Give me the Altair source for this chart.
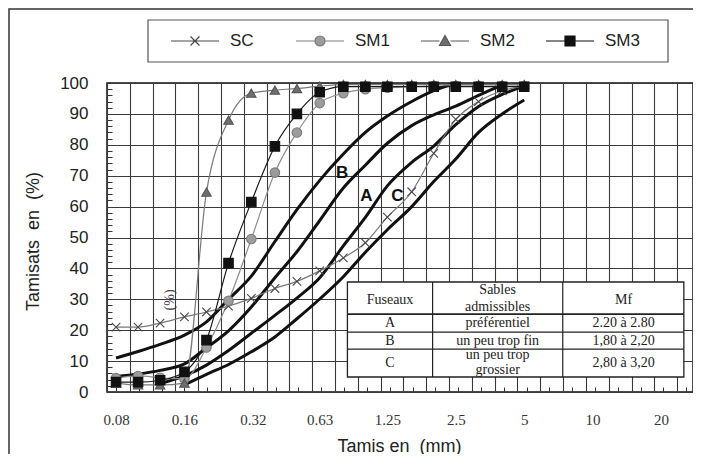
import altair as alt
import pandas as pd

# ---------------- data ----------------
sieves = [0.08, 0.1, 0.125, 0.16, 0.2, 0.25, 0.315, 0.4, 0.5, 0.63, 0.8, 1.0,
          1.25, 1.6, 2.0, 2.5, 3.15, 4.0, 5.0]
series_names = ["SC", "SM1", "SM2", "SM3"]
sc = [21.0, 21.0, 22.3, 24.3, 25.9, 27.8, 30.3, 33.5, 35.8, 39.2, 43.4, 48.3,
      56.6, 64.8, 77.2, 88.2, 94.0, 97.5, 99.0]
sm1 = [4.5, 5.2, 4.6, 4.3, 14.4, 29.5, 49.5, 71.0, 84.0, 93.5, 96.7, 98.0,
       98.5, 98.8, 99.0, 99.0, 99.0, 99.0, 99.0]
sm2 = [2.9, 2.3, 2.3, 2.9, 64.7, 88.0, 96.7, 97.7, 98.2, 99.0, 99.5, 99.5,
       99.5, 99.5, 99.5, 99.5, 99.5, 99.5, 99.5]
sm3 = [3.2, 3.2, 3.8, 6.5, 16.8, 41.7, 61.5, 79.5, 90.0, 97.0, 98.8, 98.8,
       98.8, 98.8, 98.8, 98.8, 98.8, 98.8, 98.8]

# zone boundary curves (fuseaux)
curve1_x = sieves[:16]
curve1 = [11.0, 13.1, 15.4, 18.4, 22.7, 30.0, 37.5, 48.7, 59.0, 68.5, 77.0,
          84.0, 89.3, 94.0, 97.5, 100.0]
curve2_x = sieves[:18]
curve2 = [5.0, 5.8, 7.0, 9.1, 14.3, 19.8, 27.5, 37.0, 45.4, 55.5, 66.0, 73.4,
          80.5, 86.2, 89.7, 92.5, 96.0, 99.4]
curve3_x = sieves[2:]
curve3 = [2.7, 5.2, 8.7, 13.4, 19.0, 24.8, 30.4, 37.0, 47.3, 56.5, 66.7, 74.3,
          79.6, 86.5, 92.4, 96.3, 99.0]
curve4_x = sieves[3:]
curve4 = [2.3, 5.7, 8.9, 13.0, 17.8, 23.7, 30.1, 37.3, 45.2, 52.5, 60.0, 68.1,
          75.4, 84.0, 90.0, 94.5]

x_tick_labels = [0.08, 0.16, 0.32, 0.63, 1.25, 2.5, 5, 10, 20]
y_ticks = list(range(0, 101, 10))

zone_labels = ["B", "A", "C"]
zone_label_x = [0.79, 1.01, 1.385]
zone_label_y = [70.9, 63.4, 63.4]

table_texts = ["Fuseaux", "Sables", "admissibles", "Mf",
               "A", "préférentiel", "2.20 à 2.80",
               "B", "un peu trop fin", "1,80 à 2,20",
               "C", "un peu trop", "grossier", "2,80 à 3,20"]

# ---------------- layout (annotation geometry, data space) ----------------
X_DOMAIN = [0.0730, 27.65]
grid_x = [X_DOMAIN[0] * 2 ** (k / 3) for k in range(0, 26)]
inner_x_ticks = [0.08 * 2 ** (k / 3) for k in range(0, 26)]
inner_y_ticks = [v for v in range(2, 100, 2) if v % 10]

tab_l, tab_c1, tab_c2, tab_r = 0.834, 1.977, 7.39, 25.2
tab_top, tab_h, tab_a, tab_b, tab_bot = 35.6, 25.2, 19.4, 13.9, 4.85
col1, col2, col3 = 1.284, 3.82, 13.7
table_text_x = [col1, col2, col2, col3,
                col1, col2, col3,
                col1, col2, col3,
                col1, col2, col2, col3]
table_text_y = [29.8, 33.0, 27.5, 29.8,
                22.3, 22.3, 22.3,
                16.6, 16.6, 16.6,
                9.4, 12.0, 7.1, 9.4]

# ---------------- frames ----------------
series_df = pd.DataFrame({
    "sieve": sieves * 4,
    "pct": sc + sm1 + sm2 + sm3,
    "series": sum([[n] * len(sieves) for n in series_names], []),
})
curves_df = pd.DataFrame({
    "sieve": curve1_x + curve2_x + curve3_x + curve4_x,
    "pct": curve1 + curve2 + curve3 + curve4,
    "curve": (["c1"] * len(curve1) + ["c2"] * len(curve2) +
              ["c3"] * len(curve3) + ["c4"] * len(curve4)),
})
one = pd.DataFrame({"a": [0]})

xs = alt.Scale(type="log", base=2, domain=X_DOMAIN, nice=False)
ys = alt.Scale(domain=[0, 100], nice=False, zero=False)

line_colors = ["#7a7a7a", "#8c8c8c", "#7a7a7a", "#1a1a1a"]
fill_colors = ["#555555", "#9c9c9c", "#6e6e6e", "#111111"]
stroke_colors = ["#4a4a4a", "#7c7c7c", "#555555", "#111111"]
pt_shapes = ["M-0.9,-0.9L0.9,0.9M-0.9,0.9L0.9,-0.9", "circle",
             "triangle-up", "square"]
leg_shapes = [
    "M-2.4,0H2.4M-0.45,-0.45L0.45,0.45M-0.45,0.45L0.45,-0.45",
    "M-2.4,0H-0.5M0.5,0H2.4M0.5,0A0.5,0.5,0,1,1,-0.5,0A0.5,0.5,0,1,1,0.5,0Z",
    "M-2.4,0H-0.55M0.55,0H2.4M0,-0.55L0.55,0.45H-0.55Z",
    "M-2.4,0H-0.5M0.5,0H2.4M-0.5,-0.5H0.5V0.5H-0.5Z",
]

SANS = "Liberation Sans"
SERIF = "Liberation Serif"

# outer frame (decoration)
frame = alt.Chart(one).mark_rect(fill="transparent", stroke="#333", strokeWidth=1.5).encode(
    x=alt.value(-98), x2=alt.value(640), y=alt.value(-74), y2=alt.value(420))

legend_box = alt.Chart(one).mark_rect(fill="transparent", stroke="#555", strokeWidth=1.2).encode(
    x=alt.value(41), x2=alt.value(561), y=alt.value(-63), y2=alt.value(-21))

# zone curves carry the grid axes
fuseaux = alt.Chart(curves_df).mark_line(
    color="#111", strokeWidth=3, interpolate="monotone").encode(
    x=alt.X("sieve:Q", scale=xs, axis=alt.Axis(
        orient="bottom", values=grid_x, grid=True, gridColor="#3a3a3a", gridWidth=1.1,
        labels=False, ticks=False, domain=False, title=None)),
    y=alt.Y("pct:Q", scale=ys, axis=alt.Axis(
        orient="left", values=y_ticks, grid=True, gridColor="#3a3a3a", gridWidth=1.1,
        ticks=False, domain=False, labelFont=SANS, labelFontSize=17,
        labelColor="#222", labelPadding=19,
        title="Tamisats\u00a0 en\u00a0 (%)", titleFont=SANS, titleFontSize=18,
        titleFontWeight="normal", titleColor="#222", titleAngle=270,
        titleX=-74, titleY=158, titleAlign="center", titleBaseline="middle")),
    detail="curve:N",
)

series_lines = alt.Chart(series_df).mark_line(
    strokeWidth=1.2, interpolate="monotone").encode(
    x=alt.X("sieve:Q", scale=xs, axis=alt.Axis(
        orient="bottom", values=x_tick_labels, format="~g", grid=False,
        ticks=False, domain=False, labelFont=SERIF, labelFontSize=15,
        labelColor="#333", labelPadding=20, labelFlush=False, labelOverlap=False,
        title="Tamis en\u00a0 (mm)", titleFont=SANS, titleFontSize=18,
        titleFontWeight="normal", titleColor="#222", titleX=292, titleY=54,
        titleAlign="center", titleBaseline="middle")),
    y=alt.Y("pct:Q", scale=ys, axis=alt.Axis(
        orient="right", offset=-586, values=inner_y_ticks, labels=False,
        ticks=True, tickSize=5, tickColor="#333", tickWidth=1, grid=False,
        domain=False, title=None)),
    stroke=alt.Stroke("series:N", scale=alt.Scale(domain=series_names,
                                                   range=line_colors), legend=None),
)

series_points = alt.Chart(series_df).mark_point(
    filled=True, size=90, strokeWidth=1.1, opacity=1).encode(
    x=alt.X("sieve:Q", scale=xs, axis=alt.Axis(
        orient="top", offset=-309, values=inner_x_ticks, labels=False,
        ticks=True, tickSize=5, tickColor="#333", tickWidth=1, grid=False,
        domain=False, title=None)),
    y=alt.Y("pct:Q", scale=ys, axis=None),
    shape=alt.Shape("series:N", scale=alt.Scale(domain=series_names,
                                                 range=pt_shapes), legend=None),
    fill=alt.Fill("series:N", scale=alt.Scale(domain=series_names,
                                               range=fill_colors), legend=None),
    stroke=alt.Stroke("series:N", scale=alt.Scale(domain=series_names,
                                                   range=stroke_colors), legend=None),
)

leg = alt.Legend(orient="none", legendX=77, legendY=-53, direction="horizontal",
                 columns=4, gridAlign="all", columnPadding=28, symbolSize=400,
                 symbolStrokeWidth=1.2, labelOffset=24, labelFont=SANS,
                 labelFontSize=17, labelColor="#222", title=None, padding=0)
legend_layer = alt.Chart(pd.DataFrame({"series": series_names})).mark_point(
    filled=True, size=400, strokeWidth=1.2, opacity=1).encode(
    x=alt.value(-500), y=alt.value(-500),
    shape=alt.Shape("series:N", scale=alt.Scale(domain=series_names,
                                                 range=leg_shapes), legend=leg),
    fill=alt.Fill("series:N", scale=alt.Scale(domain=series_names,
                                               range=fill_colors), legend=leg),
    stroke=alt.Stroke("series:N", scale=alt.Scale(domain=series_names,
                                                   range=stroke_colors), legend=leg),
)

zone_df = pd.DataFrame({"x": zone_label_x, "y": zone_label_y, "t": zone_labels})
zone_text = alt.Chart(zone_df).mark_text(
    font=SANS, fontSize=17, fontWeight="bold", color="#111").encode(
    x=alt.X("x:Q", scale=xs, axis=None), y=alt.Y("y:Q", scale=ys, axis=None),
    text="t:N")

pct_text = alt.Chart(pd.DataFrame({"x": [0.138], "y": [29.8], "t": ["(%)"]})).mark_text(
    font=SERIF, fontSize=14, color="#444", angle=270).encode(
    x=alt.X("x:Q", scale=xs, axis=None), y=alt.Y("y:Q", scale=ys, axis=None),
    text="t:N")

table_box = alt.Chart(pd.DataFrame({"x": [tab_l], "x2": [tab_r],
                                    "y": [tab_top], "y2": [tab_bot]})).mark_rect(
    fill="white", stroke="#222", strokeWidth=1.3).encode(
    x=alt.X("x:Q", scale=xs, axis=None), x2="x2:Q",
    y=alt.Y("y:Q", scale=ys, axis=None), y2="y2:Q")

rules_df = pd.DataFrame({
    "x": [tab_c1, tab_c2, tab_l, tab_l, tab_l],
    "x2": [tab_c1, tab_c2, tab_r, tab_r, tab_r],
    "y": [tab_top, tab_top, tab_h, tab_a, tab_b],
    "y2": [tab_bot, tab_bot, tab_h, tab_a, tab_b],
    "w": [1.2, 1.2, 1.8, 1.2, 1.2],
})
table_rules = alt.Chart(rules_df).mark_rule(color="#222").encode(
    x=alt.X("x:Q", scale=xs, axis=None), x2="x2:Q",
    y=alt.Y("y:Q", scale=ys, axis=None), y2="y2:Q",
    strokeWidth=alt.StrokeWidth("w:Q", scale=None))

ttext_df = pd.DataFrame({"x": table_text_x, "y": table_text_y, "t": table_texts})
table_text = alt.Chart(ttext_df).mark_text(font=SERIF, fontSize=14, color="#222").encode(
    x=alt.X("x:Q", scale=xs, axis=None), y=alt.Y("y:Q", scale=ys, axis=None),
    text="t:N")

chart = alt.layer(
    frame, legend_box, fuseaux, series_lines, series_points, legend_layer,
    table_box, table_rules, table_text, zone_text, pct_text,
).resolve_axis(
    x="independent", y="independent"
).resolve_scale(
    shape="independent", fill="independent", stroke="independent"
).properties(
    width=586, height=309,
    padding={"left": 99, "top": 75, "right": 0, "bottom": 62},
    autosize=alt.AutoSizeParams(type="none"),
    background="white",
).configure_view(stroke="#111", strokeWidth=1.5)

chart.save("out.html", embed_options={"renderer": "svg", "actions": False})
